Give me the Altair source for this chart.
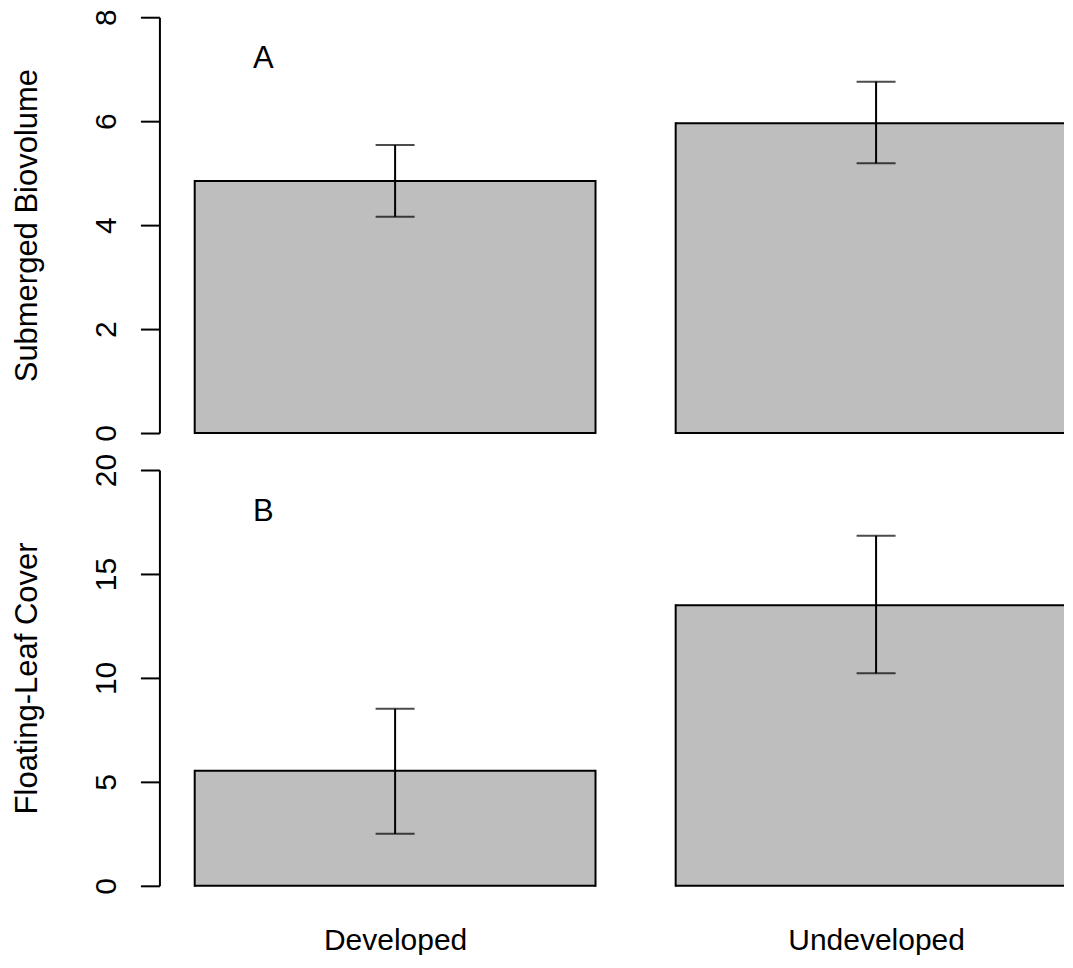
import json
import altair as alt
import pandas as pd

# ---- data ----
groups = ["Developed", "Undeveloped"]
biovolume_mean = [4.85, 5.96]
biovolume_lo = [4.16, 5.19]
biovolume_hi = [5.54, 6.76]
cover_mean = [5.53, 13.49]
cover_lo = [2.50, 10.22]
cover_hi = [8.52, 16.84]
biovolume_ticks = [0, 2, 4, 6, 8]
cover_ticks = [0, 5, 10, 15, 20]
panel_letters = ["A", "B"]
letter_y = [7.2, 18]
y_titles = ["Submerged Biovolume", "Floating-Leaf Cover"]

FONT = "Liberation Sans"
PLOT_W = 905
PLOT_H = 416
# R barplot geometry: bar width 1, space 0.2; visible x range of the plot region
X_MIN = 0.112
X_MAX = X_MIN + PLOT_W / 401.0
centers = [0.7 + 1.2 * i for i in range(len(groups))]
label_expr = "%s[round((datum.value - 0.7) / 1.2)]" % json.dumps(groups)


def panel(means, los, his, ytitle, domain, ticks, letter, ly, show_x):
    df = pd.DataFrame({"group": groups, "order": list(range(len(groups))),
                       "mean": means, "lo": los, "hi": his})
    xscale = alt.Scale(domain=[X_MIN, X_MAX], clamp=True, nice=False, zero=False)
    if show_x:
        xaxis = alt.Axis(title=None, domain=False, ticks=False, tickSize=0,
                         grid=False, values=centers, labelExpr=label_expr,
                         labelFont=FONT, labelFontSize=30, labelColor="black",
                         labelPadding=64, labelBaseline="alphabetic",
                         labelAngle=0, labelFlush=False)
    else:
        xaxis = None
    yscale = alt.Scale(domain=domain, nice=False, zero=True)
    yaxis = alt.Axis(title=ytitle, values=ticks, grid=False,
                     domainColor="black", domainWidth=2,
                     tickColor="black", tickWidth=2, tickSize=19,
                     labelAngle=270, labelAlign="center", labelBaseline="alphabetic",
                     labelPadding=25, labelFont=FONT, labelFontSize=30,
                     labelColor="black",
                     titleFont=FONT, titleFontSize=31, titleFontWeight="normal",
                     titleColor="black", titleAngle=270, titleAlign="center",
                     titleBaseline="alphabetic", titleX=-123, titleY=PLOT_H / 2)
    base = alt.Chart(df).transform_calculate(
        left="0.2 + 1.2 * datum.order",
        right="1.2 + 1.2 * datum.order",
        center="0.7 + 1.2 * datum.order",
        base="0",
    )
    xl = alt.X("left:Q", scale=xscale, axis=xaxis)
    xc = alt.X("center:Q", scale=xscale, axis=xaxis)
    fill = base.mark_rect(fill="#BEBEBE").encode(
        x=xl, x2="right:Q",
        y=alt.Y("mean:Q", scale=yscale, axis=yaxis), y2="base:Q")
    top_edge = base.mark_rule(color="black", strokeWidth=2).encode(
        x=xl, x2="right:Q", y=alt.Y("mean:Q", scale=yscale, axis=yaxis))
    bottom_edge = base.mark_rule(color="black", strokeWidth=2).encode(
        x=xl, x2="right:Q", y=alt.Y("base:Q", scale=yscale, axis=yaxis))
    left_edge = base.mark_rule(color="black", strokeWidth=2,
                               strokeCap="square").encode(
        x=xl, y=alt.Y("base:Q", scale=yscale, axis=yaxis), y2="mean:Q")
    right_edge = base.transform_filter(
        "datum.right <= %f" % X_MAX).mark_rule(
        color="black", strokeWidth=2, strokeCap="square").encode(
        x=alt.X("right:Q", scale=xscale, axis=xaxis),
        y=alt.Y("base:Q", scale=yscale, axis=yaxis), y2="mean:Q")
    err = base.mark_rule(color="black", strokeWidth=2).encode(
        x=xc, y=alt.Y("lo:Q", scale=yscale, axis=yaxis), y2="hi:Q")
    cap_hi = base.mark_tick(color="black", thickness=2, size=39,
                            orient="horizontal").encode(
        x=xc, y=alt.Y("hi:Q", scale=yscale, axis=yaxis))
    cap_lo = base.mark_tick(color="black", thickness=2, size=39,
                            orient="horizontal").encode(
        x=xc, y=alt.Y("lo:Q", scale=yscale, axis=yaxis))
    ldf = pd.DataFrame({"letter": [letter], "ly": [ly]})
    text = alt.Chart(ldf).mark_text(font=FONT, fontSize=31, align="center",
                                    baseline="middle", color="black").encode(
        x=alt.value(104), y=alt.Y("ly:Q", scale=yscale, axis=yaxis),
        text="letter:N")
    return alt.layer(fill, top_edge, bottom_edge, left_edge, right_edge,
                     err, cap_hi, cap_lo, text).properties(
        width=PLOT_W, height=PLOT_H)


top = panel(biovolume_mean, biovolume_lo, biovolume_hi, y_titles[0],
            [biovolume_ticks[0], biovolume_ticks[-1]], biovolume_ticks,
            panel_letters[0], letter_y[0], False)
bottom = panel(cover_mean, cover_lo, cover_hi, y_titles[1],
               [cover_ticks[0], cover_ticks[-1]], cover_ticks,
               panel_letters[1], letter_y[1], True)

chart = alt.vconcat(top, bottom, spacing=37, bounds="flush").resolve_scale(
    y="independent").configure_view(strokeWidth=0).properties(
    padding={"left": 3.5, "top": 0, "right": 0, "bottom": -1},
    background="white")

chart.save("out.html", embed_options={"renderer": "svg", "actions": False})
